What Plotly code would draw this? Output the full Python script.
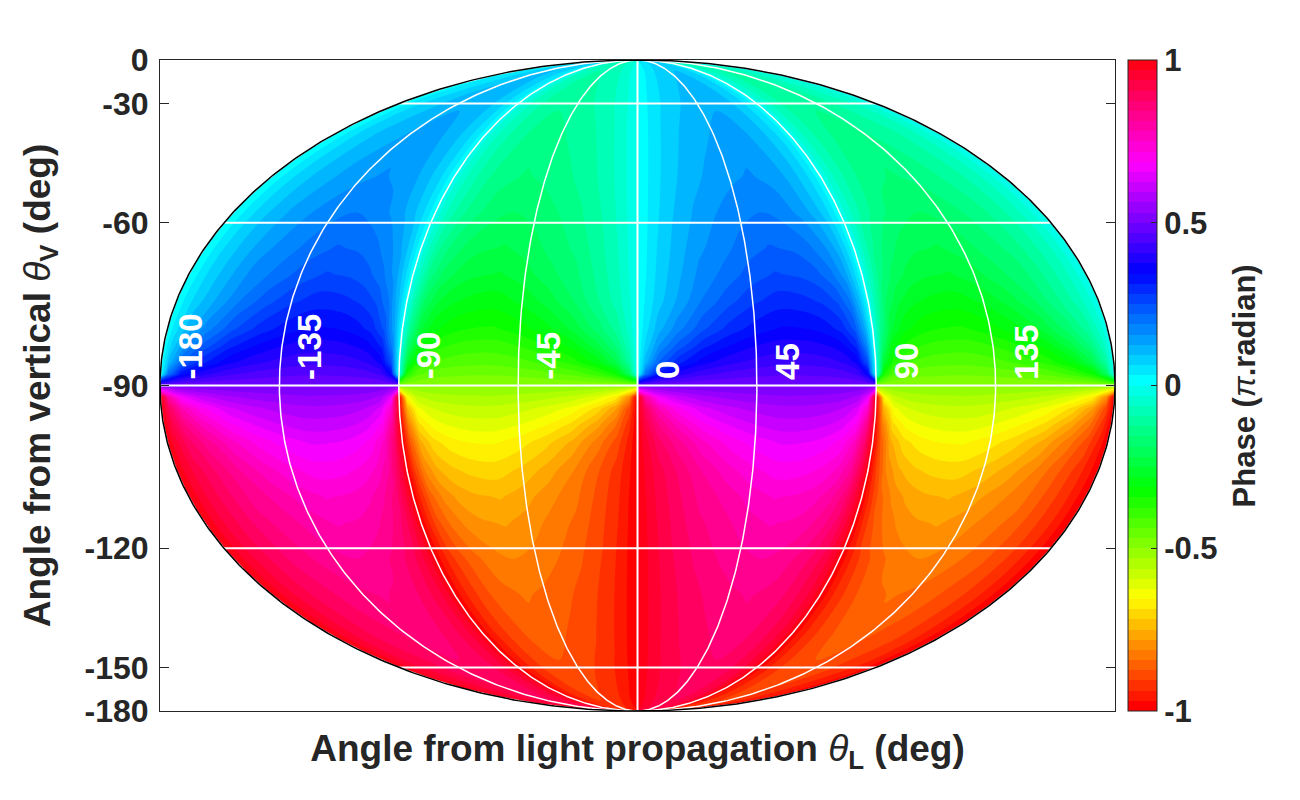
import numpy as np
import plotly.graph_objects as go

# Phase (in units of pi) in one 90-degree sector, upper half.
offset_from_sector_edge = [0, 3, 8, 15, 25, 35, 45, 55, 65, 72, 78, 83, 87, 90]
colatitude_top = [0, 15, 30, 40, 50, 58, 65, 70, 75, 80, 83, 86, 88, 90]
phase_c0 = [0, .007, .019, .033, .047, .056, .065, .07, .063, .054, .041, .028, .014, 0]
phase_c15 = [0, .01, .026, .045, .064, .077, .088, .095, .086, .073, .056, .039, .02, 0]
phase_c30 = [0, .013, .034, .057, .081, .098, .111, .12, .109, .093, .072, .05, .025, 0]
phase_c40 = [0, .015, .04, .068, .096, .114, .13, .14, .127, .109, .085, .059, .03, 0]
phase_c50 = [0, .018, .047, .079, .111, .132, .149, .16, .146, .126, .098, .069, .035, 0]
phase_c58 = [0, .021, .054, .09, .128, .156, .176, .188, .172, .149, .118, .083, .042, 0]
phase_c65 = [0, .024, .062, .101, .148, .175, .204, .222, .213, .192, .159, .115, .056, 0]
phase_c70 = [0, .027, .069, .111, .165, .197, .231, .253, .244, .227, .193, .142, .067, 0]
phase_c75 = [0, .034, .08, .126, .189, .237, .274, .297, .292, .276, .246, .189, .092, 0]
phase_c80 = [0, .049, .112, .172, .244, .293, .327, .348, .344, .329, .302, .244, .128, 0]
phase_c83 = [0, .069, .154, .227, .302, .345, .374, .39, .387, .375, .352, .302, .174, 0]
phase_c86 = [0, .109, .224, .301, .366, .399, .419, .43, .428, .42, .404, .366, .247, 0]
phase_c88 = [0, .2, .332, .391, .431, .449, .459, .465, .464, .46, .452, .431, .352, 0]
phase_c90 = [.5, .5, .5, .5, .5, .5, .5, .5, .5, .5, .5, .5, .5, .5]
phase_rows = [phase_c0, phase_c15, phase_c30, phase_c40, phase_c50, phase_c58, phase_c65, phase_c70, phase_c75,
              phase_c80, phase_c83, phase_c86, phase_c88, phase_c90]

meridians = [-180, -135, -90, -45, 0, 45, 90, 135, 180]
meridian_labels = ["-180", "-135", "-90", "-45", "0", "45", "90", "135"]
parallels = [-30, -60, -90, -120, -150]
y_tick_angles = [0, -30, -60, -90, -120, -150, -180]
y_tick_labels = ["0", "-30", "-60", "-90", "-120", "-150", "-180"]
cbar_ticks = [-1, -0.5, 0, 0.5, 1]
cbar_labels = ["-1", "-0.5", "0", "0.5", "1"]

INK = "#262626"
FONT = "Liberation Sans"


def project(lon_deg, col_deg):
    c = np.radians(col_deg)
    return np.asarray(lon_deg) / 180.0 * np.sin(c), np.cos(c)


top = np.array(phase_rows)
u = np.array(offset_from_sector_edge, float)
col_top = np.array(colatitude_top, float)
col_all = np.concatenate([col_top, 180 - col_top[-2::-1]])
z_pos = np.vstack([top, 1 - top[-2::-1]])

# hsv map; each band takes the hue of its lower edge, so stops sit half a band up
hb = 1 / 128
hsv = [[0, "#ff0000"], [hb, "#ff0000"], [1 / 6 + hb, "#ffff00"], [2 / 6 + hb, "#00ff00"], [3 / 6 + hb, "#00ffff"],
       [4 / 6 + hb, "#0000ff"], [5 / 6 + hb, "#ff00ff"], [1, "#ff000c"]]

fig = go.Figure()

hidden = dict(showgrid=False, showline=False, showticklabels="none", startline=False, endline=False,
              minorgridcount=0, smoothing=0, tickmode="array", tickvals=[])
b_grid = np.arange(0, 180.01, 1.0)
sectors = [(u - 180, z_pos), ((-u)[::-1], -z_pos[:, ::-1]), (u, z_pos), ((180 - u)[::-1], -z_pos[:, ::-1])]
for i, (a_vals, z_vals) in enumerate(sectors):
    a_grid = np.arange(a_vals[0], a_vals[-1] + 0.01, 2.0)
    A, B = np.meshgrid(a_grid, b_grid)
    X, Y = project(A, B)
    cid = f"map{i}"
    fig.add_trace(go.Carpet(a=a_grid, b=b_grid, x=X, y=Y, carpet=cid, aaxis=hidden, baxis=hidden,
                            xaxis="x", yaxis="y"))
    fig.add_trace(go.Contourcarpet(
        carpet=cid, a=a_vals, b=col_all, z=z_vals, autocontour=False, zmin=-1, zmax=1,
        contours=dict(coloring="fill", start=-1, end=1, size=1 / 32, showlines=False),
        line=dict(width=0), colorscale=hsv, showscale=i == 0,
        colorbar=dict(x=1.0136, xanchor="left", xref="paper", xpad=0, ypad=0, y=0.5, yanchor="middle", len=1,
                      lenmode="fraction", thickness=29, outlinewidth=1, outlinecolor=INK, ticks="inside", ticklen=6,
                      tickcolor=INK, tickvals=cbar_ticks, ticktext=[f"<b>{t}</b>" for t in cbar_labels],
                      tickfont=dict(family=FONT, size=31, color=INK))))

t = np.linspace(0, 180, 361)
for m in meridians:
    x, y = project(np.full_like(t, m), t)
    fig.add_trace(go.Scatter(x=x, y=y, mode="lines", hoverinfo="skip", showlegend=False,
                             line=dict(color="white", width=2 if m == 0 else 1.5)))
for p in parallels:
    x, y = project(np.array([-180.0, 180.0]), np.array([-p, -p], float))
    fig.add_trace(go.Scatter(x=x, y=y, mode="lines", hoverinfo="skip", showlegend=False,
                             line=dict(color="white", width=2)))
phi = np.linspace(0, 360, 721)
fig.add_trace(go.Scatter(x=np.sin(np.radians(phi)), y=np.cos(np.radians(phi)), mode="lines", hoverinfo="skip",
                         showlegend=False, line=dict(color="black", width=1.5)))

annotations = [dict(x=project(m, 90)[0], y=0, text=f"<b>{s}</b>", textangle=-90, showarrow=False,
                    xanchor="center", yanchor="bottom", xshift=30, yshift=4,
                    font=dict(family=FONT, size=33, color="white"))
               for m, s in zip(meridians, meridian_labels)]
annotations.append(dict(xref="paper", yref="paper", x=1.136, y=0.5, text="<b>Phase (</b><i>π</i><b>.radian)</b>",
                        textangle=-90, showarrow=False, xanchor="center", yanchor="middle",
                        font=dict(family=FONT, size=31, color=INK)))

fig.update_layout(
    width=1300, height=800, margin=dict(l=152, r=193, t=52, b=97), paper_bgcolor="white", plot_bgcolor="white",
    showlegend=False, annotations=annotations,
    xaxis=dict(range=[-1, 1], showgrid=False, zeroline=False, showticklabels=False, ticks="", showline=True,
               linecolor=INK, linewidth=1, mirror=True,
               title=dict(text="<b>Angle from light propagation </b><i>θ</i><b><sub>L</sub> (deg)</b>",
                          font=dict(family=FONT, size=37, color=INK), standoff=24)),
    yaxis=dict(range=[-1, 1], showgrid=False, zeroline=False, showline=True, linecolor=INK, linewidth=1,
               mirror="allticks", ticks="inside", ticklen=9, tickcolor=INK, ticklabelstandoff=4,
               tickvals=[float(np.cos(np.radians(-a))) for a in y_tick_angles],
               ticktext=[f"<b>{s}</b>" for s in y_tick_labels],
               tickfont=dict(family=FONT, size=32, color=INK),
               title=dict(text="<b>Angle from vertical </b><i>θ</i><b><sub>V</sub> (deg)</b>",
                          font=dict(family=FONT, size=37, color=INK), standoff=22)),
)
fig.write_html("out.html")
